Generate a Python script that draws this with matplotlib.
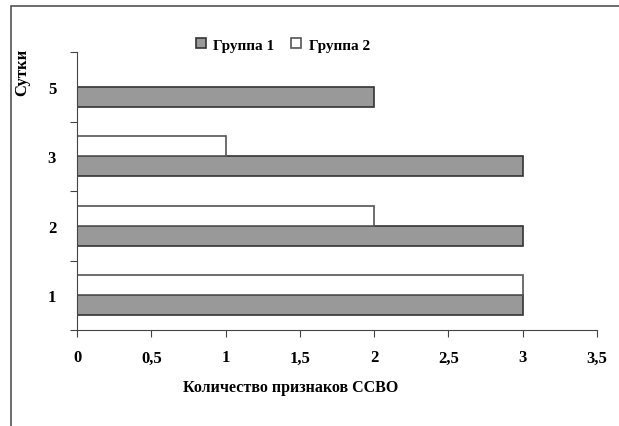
import numpy as np
import matplotlib.pyplot as plt
from matplotlib.patches import Rectangle

days = ['1', '2', '3', '5']
group1 = [3, 3, 3, 2]
group2 = [3, 2, 1, 0]
x_ticks = [0, 0.5, 1, 1.5, 2, 2.5, 3, 3.5]
x_labels = ['0', '0,5', '1', '1,5', '2', '2,5', '3', '3,5']

plt.rcParams['font.family'] = ['Liberation Serif', 'DejaVu Serif']
plt.rcParams['font.weight'] = 'bold'
plt.rcParams['axes.labelweight'] = 'bold'

fig = plt.figure(figsize=(6.19, 4.27), dpi=100)
ax = fig.add_axes([77 / 619, 1 - 331 / 427, 520 / 619, 278 / 427])

# outer frame of the figure (cut off at right and bottom)
fig.add_artist(Rectangle((11 / 619, -0.05), 1.0, 1 - 7 / 427 + 0.05,
                         transform=fig.transFigure, fill=False,
                         edgecolor='#555555', lw=1.2))

pos = np.arange(len(days))
h = 0.29
b1 = ax.barh(pos - h / 2, group1, height=h, color='#999999',
             edgecolor='#333333', lw=1.2, label='Группа 1')
b2 = ax.barh(pos + h / 2, group2, height=h, color='white',
             edgecolor='#555555', lw=1.2, label='Группа 2')

ax.set_xlim(0, 3.5)
ax.set_ylim(-0.5, len(days) - 0.5)
ax.set_xticks(x_ticks)
ax.set_xticklabels(x_labels, fontsize=12)
ax.set_yticks(np.arange(len(days) + 1) - 0.5)
ax.set_yticklabels([])
ax.set_yticks(pos, minor=True)
ax.set_yticklabels(days, minor=True, fontsize=12)
ax.tick_params(axis='y', which='minor', length=0, pad=15)
ax.tick_params(axis='y', which='major', length=5, color='#444444')
ax.tick_params(axis='x', length=5, color='#444444', pad=9)

for s in ['top', 'right']:
    ax.spines[s].set_visible(False)
for s in ['left', 'bottom']:
    ax.spines[s].set_color('#444444')

ax.set_xlabel('Количество признаков ССВО', fontsize=11.5)
ax.xaxis.set_label_coords(0.41, -0.175)
fig.text(22 / 619, 1 - 72 / 427, 'Сутки', rotation=90, fontsize=12,
         ha='center', va='center')

ax.legend(handles=[b1, b2], loc='center', bbox_to_anchor=(283 / 619, 1 - 46 / 427),
          bbox_transform=fig.transFigure, ncol=2, frameon=False, fontsize=11,
          handlelength=0.65, handleheight=0.65, handletextpad=0.5, columnspacing=1.1)

fig.savefig('out.png', dpi=100)
